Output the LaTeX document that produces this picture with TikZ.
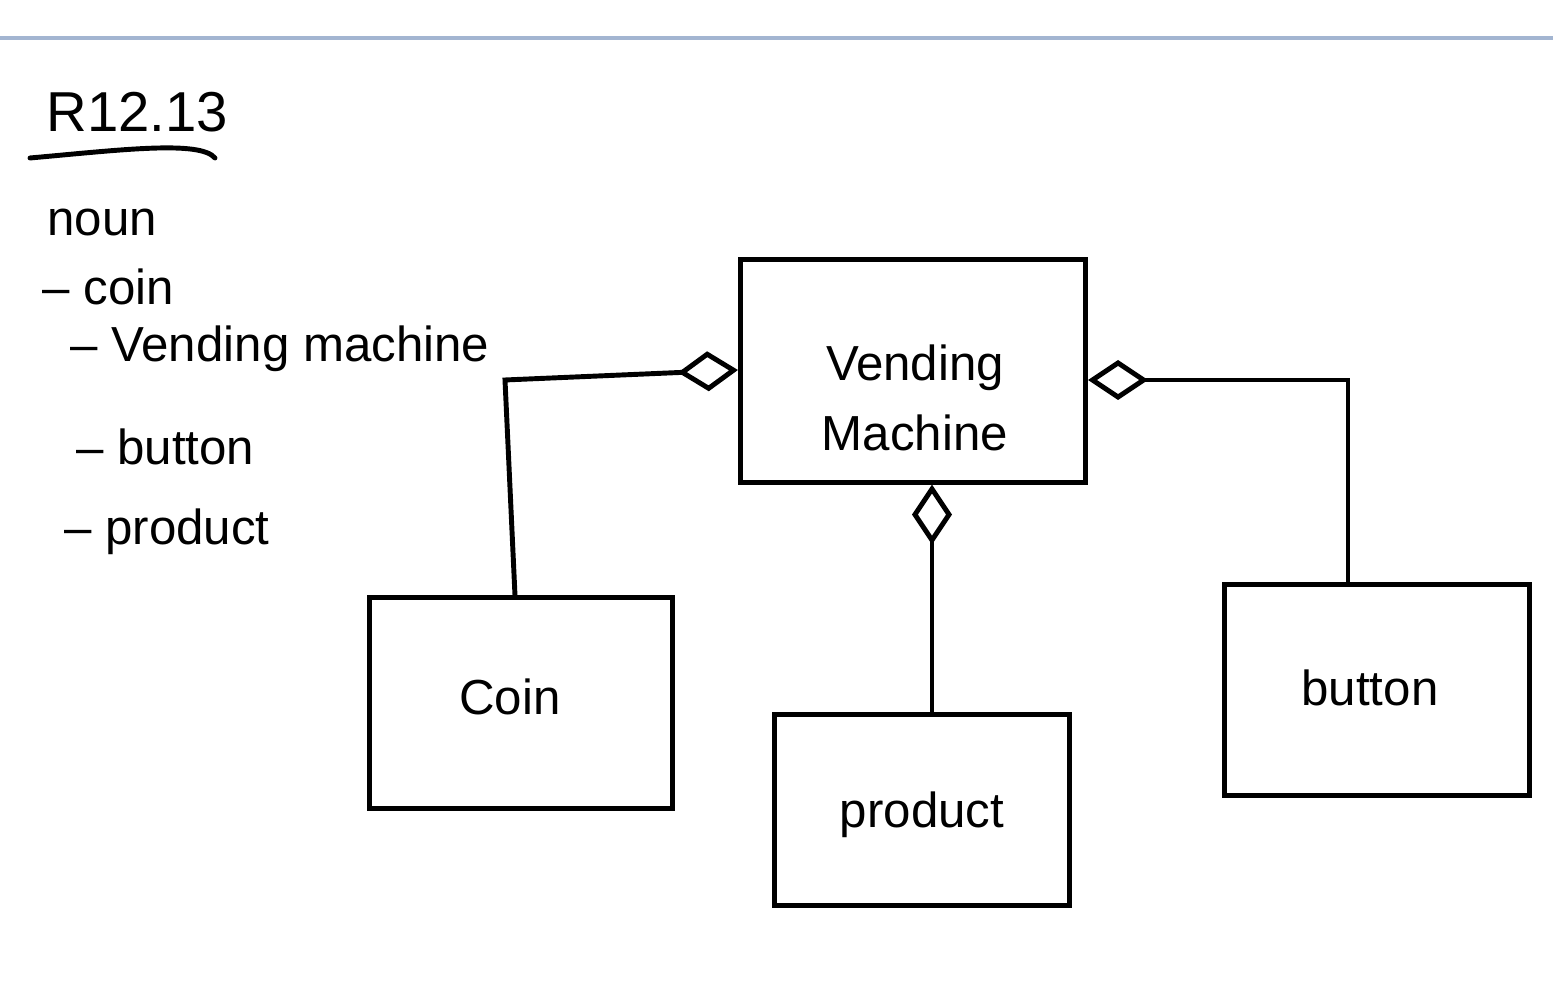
\documentclass[tikz,border=0pt]{standalone}
\usepackage{fontspec}
\setmainfont{Liberation Sans}
\usetikzlibrary{arrows.meta, positioning}

\definecolor{rulecol}{HTML}{A3B5D1}

\tikzset{
    classbox/.style={draw, line width=1.4pt, inner sep=0pt},
    classname/.style={align=center, font=\fontsize{14}{20}\selectfont},
    aggr/.style={line width=1.4pt, {Diamond[open, length=0.6cm, width=0.4cm]}-},
    notetext/.style={anchor=base west, font=\fontsize{14}{17}\selectfont},
}

\begin{document}
\begin{tikzpicture}[x=0.01cm, y=-0.01cm]
    \useasboundingbox (0,0) rectangle (1553,989);

    % Page rule at the top
    \draw[rulecol, line width=1.1pt] (0,38) -- (1553,38);

    % Heading and notes
    \node[anchor=base west, font=\fontsize{16}{19}\selectfont] (title) at (34,132) {R12.13};
    \draw[line width=1.4pt, line cap=round] (30,158) .. controls (120,150) and (200,140) .. (215,158);
    \node[notetext] (noun) at (35,236) {noun};
    \node[notetext] (n1) at (30,305) {-- coin};
    \node[notetext] (n2) at (58,362) {-- Vending machine};
    \node[notetext] (n3) at (64,465) {-- button};
    \node[notetext] (n4) at (52,545) {-- product};

    % Classes
    \node[classbox, minimum width=3.45cm, minimum height=2.22cm] (vm) at (913,371) {};
    \node[classname] (vmtext) at (915,398) {Vending\\Machine};
    \node[classbox, minimum width=3.02cm, minimum height=2.10cm] (coin) at (521,703) {};
    \node[classname] (cointext) at (510,697) {Coin};
    \node[classbox, minimum width=2.95cm, minimum height=1.90cm] (product) at (922,810) {};
    \node[classname] (producttext) at (922,815) {product};
    \node[classbox, minimum width=3.05cm, minimum height=2.10cm] (button) at (1377,690) {};
    \node[classname] (buttontext) at (1370,688) {button};

    % Aggregation links
    \coordinate (cbend) at (505,380);
    \coordinate (bbend) at (1348,380);
    \draw[aggr] (vm.west |- 0,370) -- (cbend) -- (coin.north -| 515,0);
    \draw[aggr] (vm.south -| 932,0) -- (product.north -| 932,0);
    \draw[aggr] (vm.east |- 0,380) -- (bbend) -- (button.north -| 1348,0);

\end{tikzpicture}
\end{document}
